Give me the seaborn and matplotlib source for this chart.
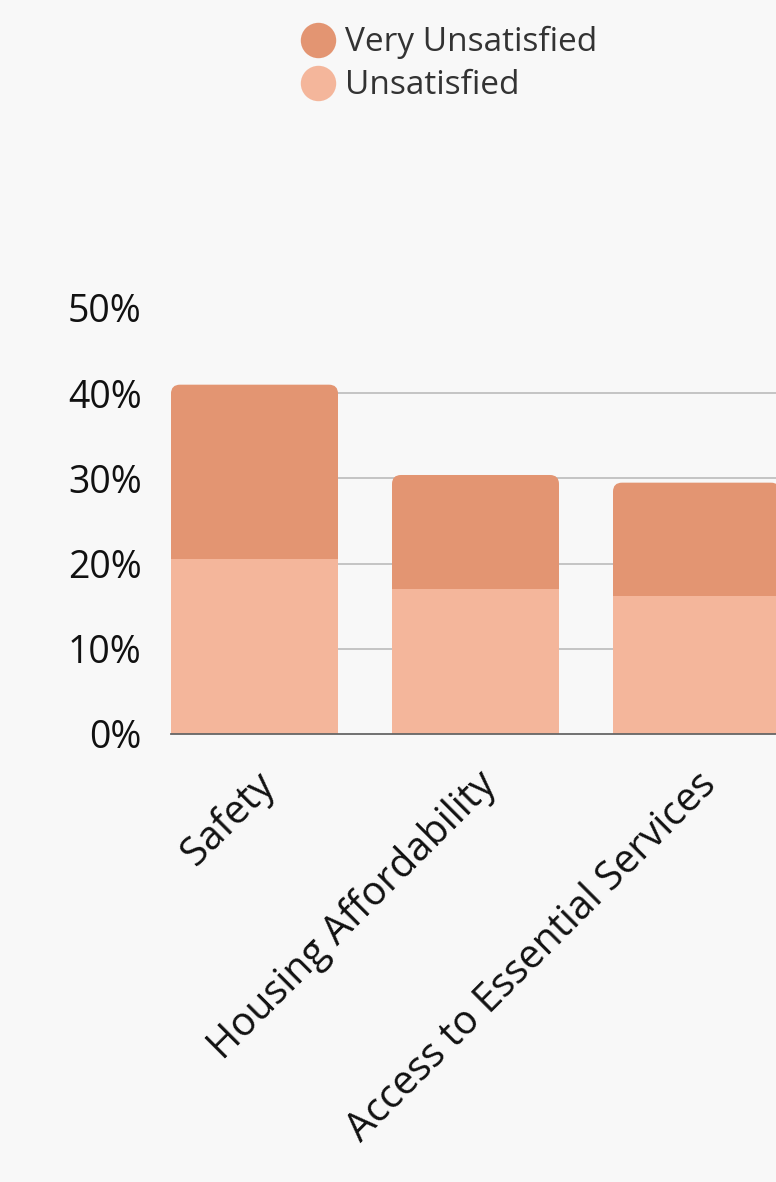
import matplotlib
matplotlib.use("Agg")
import matplotlib.pyplot as plt
import seaborn as sns
import pandas as pd
from matplotlib.patches import FancyBboxPatch
from matplotlib.lines import Line2D

# ---- data ----
categories = ["Safety", "Housing Affordability", "Access to Essential Services"]
unsatisfied = [20.5, 17.0, 16.2]
very_unsatisfied = [20.5, 13.4, 13.3]
series_names = ["Very Unsatisfied", "Unsatisfied"]
yticks = [0, 10, 20, 30, 40, 50]
ytick_labels = ["0%", "10%", "20%", "30%", "40%", "50%"]

# ---- style ----
BG = "#f8f8f8"
DARK = "#e39572"
LIGHT = "#f4b69b"
sns.set_theme(style="white")
plt.rcParams['font.family'] = ['Open Sans', 'DejaVu Sans']

W, H = 776, 1182
fig = plt.figure(figsize=(W / 100, H / 100), dpi=100, facecolor=BG)

x0_px, y0_px, ytop_px = 171, 734, 308
slot = 221.0
bar_w = 167.0 / slot
xl = -bar_w / 2
xr = 3.2
ax = fig.add_axes([x0_px / W, (H - y0_px) / H, (xr - xl) * slot / W, (y0_px - ytop_px) / H])
ax.set_facecolor(BG)

df = pd.DataFrame({
    "category": categories,
    "unsatisfied": unsatisfied,
    "total": [u + v for u, v in zip(unsatisfied, very_unsatisfied)],
})

# total bars (very unsatisfied on top), rounded top corners
sns.barplot(data=df, x="category", y="total", color=DARK, saturation=1,
            width=bar_w, ax=ax, zorder=2)
y_per_px = 50.0 / (y0_px - ytop_px)
x_per_px = 1.0 / slot
aspect = y_per_px / x_per_px
for p in list(ax.patches):
    x, y = p.get_x(), p.get_y()
    w, h = p.get_width(), p.get_height()
    p.set_visible(False)
    ax.add_patch(FancyBboxPatch((x, y), w, h,
                                boxstyle=f"round,pad=0,rounding_size={9 * x_per_px}",
                                mutation_aspect=aspect, facecolor=DARK,
                                edgecolor="none", zorder=2))

sns.barplot(data=df, x="category", y="unsatisfied", color=LIGHT, saturation=1,
            width=bar_w, ax=ax, zorder=3)
for p in ax.patches:
    p.set_edgecolor("none")

ax.set_xlim(xl, xr)
ax.set_ylim(0, 50)
ax.set_yticks(yticks)
ax.set_yticklabels(ytick_labels)
ax.set_xlabel("")
ax.set_ylabel("")

ax.set_axisbelow(True)
ax.yaxis.grid(True, color="#bbbbbb", lw=1.2)
gl = ax.yaxis.get_gridlines()
gl[-1].set_visible(False)
gl[0].set_visible(False)
for s in ["top", "right", "left"]:
    ax.spines[s].set_visible(False)
ax.spines["bottom"].set_color("#666666")
ax.spines["bottom"].set_linewidth(1.3)
ax.spines["bottom"].set_zorder(5)

ax.tick_params(axis="y", length=0, pad=21, labelsize=27, labelcolor="#111111")
ax.tick_params(axis="x", length=0, pad=22, labelsize=28.5, labelcolor="#111111")
for lab in ax.get_xticklabels():
    lab.set_rotation(45)
    lab.set_ha("right")
    lab.set_va("top")
    lab.set_rotation_mode("anchor")

handles = [
    Line2D([], [], marker="o", linestyle="none", markersize=25.5, markerfacecolor=DARK, markeredgecolor="none"),
    Line2D([], [], marker="o", linestyle="none", markersize=25.5, markerfacecolor=LIGHT, markeredgecolor="none"),
]
leg = fig.legend(handles, series_names, loc="upper left", bbox_to_anchor=(298 / W, 1 - 26 / H),
                 frameon=False, fontsize=24, handlelength=1.2, handletextpad=0.22,
                 labelspacing=0.3, borderpad=0, borderaxespad=0)
for t in leg.get_texts():
    t.set_color("#333333")

fig.savefig("out.png", dpi=100, facecolor=BG)
